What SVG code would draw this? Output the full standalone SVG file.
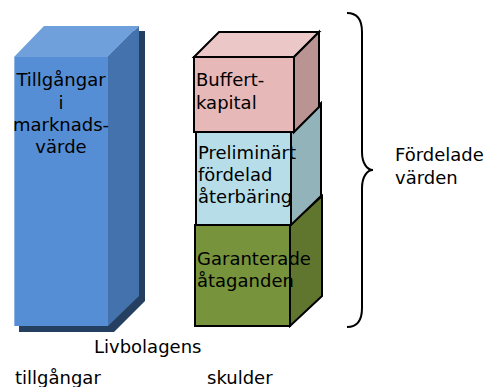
<svg xmlns="http://www.w3.org/2000/svg" width="486" height="387" viewBox="0 0 486 387">
<style>
text{font-family:"DejaVu Sans","Verdana",sans-serif;font-size:18px;fill:#000}
.ol{stroke:#000;stroke-width:2;stroke-linejoin:miter}
</style>
<rect width="486" height="387" fill="#fff"/>
<g id="tillgangar">
<polygon points="19,62 49,31 145,31 145,301 114,332 19,332" fill="#243F60"/>
<polygon points="14,57 44,26 139,26 108,57" fill="#6FA0DC"/>
<polygon points="108,57 139,26 139,296 108,326" fill="#4472AD"/>
<rect x="14" y="57" width="94" height="269" fill="#558ED5"/>
<line x1="14.5" y1="57" x2="14.5" y2="326" stroke="#8DB3E2" stroke-width="1"/>
<text x="61" y="86" text-anchor="middle">Tillgångar</text>
<text x="61" y="108.5" text-anchor="middle">i</text>
<text x="61" y="131" text-anchor="middle">marknads-</text>
<text x="61" y="153" text-anchor="middle">värde</text>
</g>
<g id="garanterade">
<polygon class="ol" points="290,225 322,196 322,296 290,326" fill="#60762F"/>
<rect class="ol" x="195" y="225" width="95" height="101" fill="#77933C"/>
<text x="197" y="265">Garanterade</text>
<text x="197" y="287">åtaganden</text>
</g>
<g id="preliminart">
<polygon class="ol" points="291,132 321,103 321,196 291,225" fill="#93B3BB"/>
<rect class="ol" x="196" y="132" width="95" height="93" fill="#B7DEE8"/>
<text x="198" y="159">Preliminärt</text>
<text x="198" y="181">fördelad</text>
<text x="198" y="203">återbäring</text>
</g>
<g id="buffertkapital">
<polygon class="ol" points="194,57 219,32 319,32 294,57" fill="#EBC8C7"/>
<polygon class="ol" points="294,57 319,32 319,107 294,132" fill="#B99493"/>
<rect class="ol" x="194" y="57" width="100" height="75" fill="#E6B9B8"/>
<text x="196" y="86">Buffert-</text>
<text x="196" y="109">kapital</text>
</g>
<g id="connectors">
<path d="M347,13 C357,13 362,20 362,32 L362,152 C362,163 367,170 373,170 C367,170 362,177 362,188 L362,308 C362,320 357,327 347,327" fill="none" stroke="#000" stroke-width="2"/>
</g>
<g id="labels">
<text x="395" y="161">Fördelade</text>
<text x="395" y="184">värden</text>
<text x="94" y="353">Livbolagens</text>
<text x="15" y="384">tillgångar</text>
<text x="207" y="384">skulder</text>
</g>
</svg>
